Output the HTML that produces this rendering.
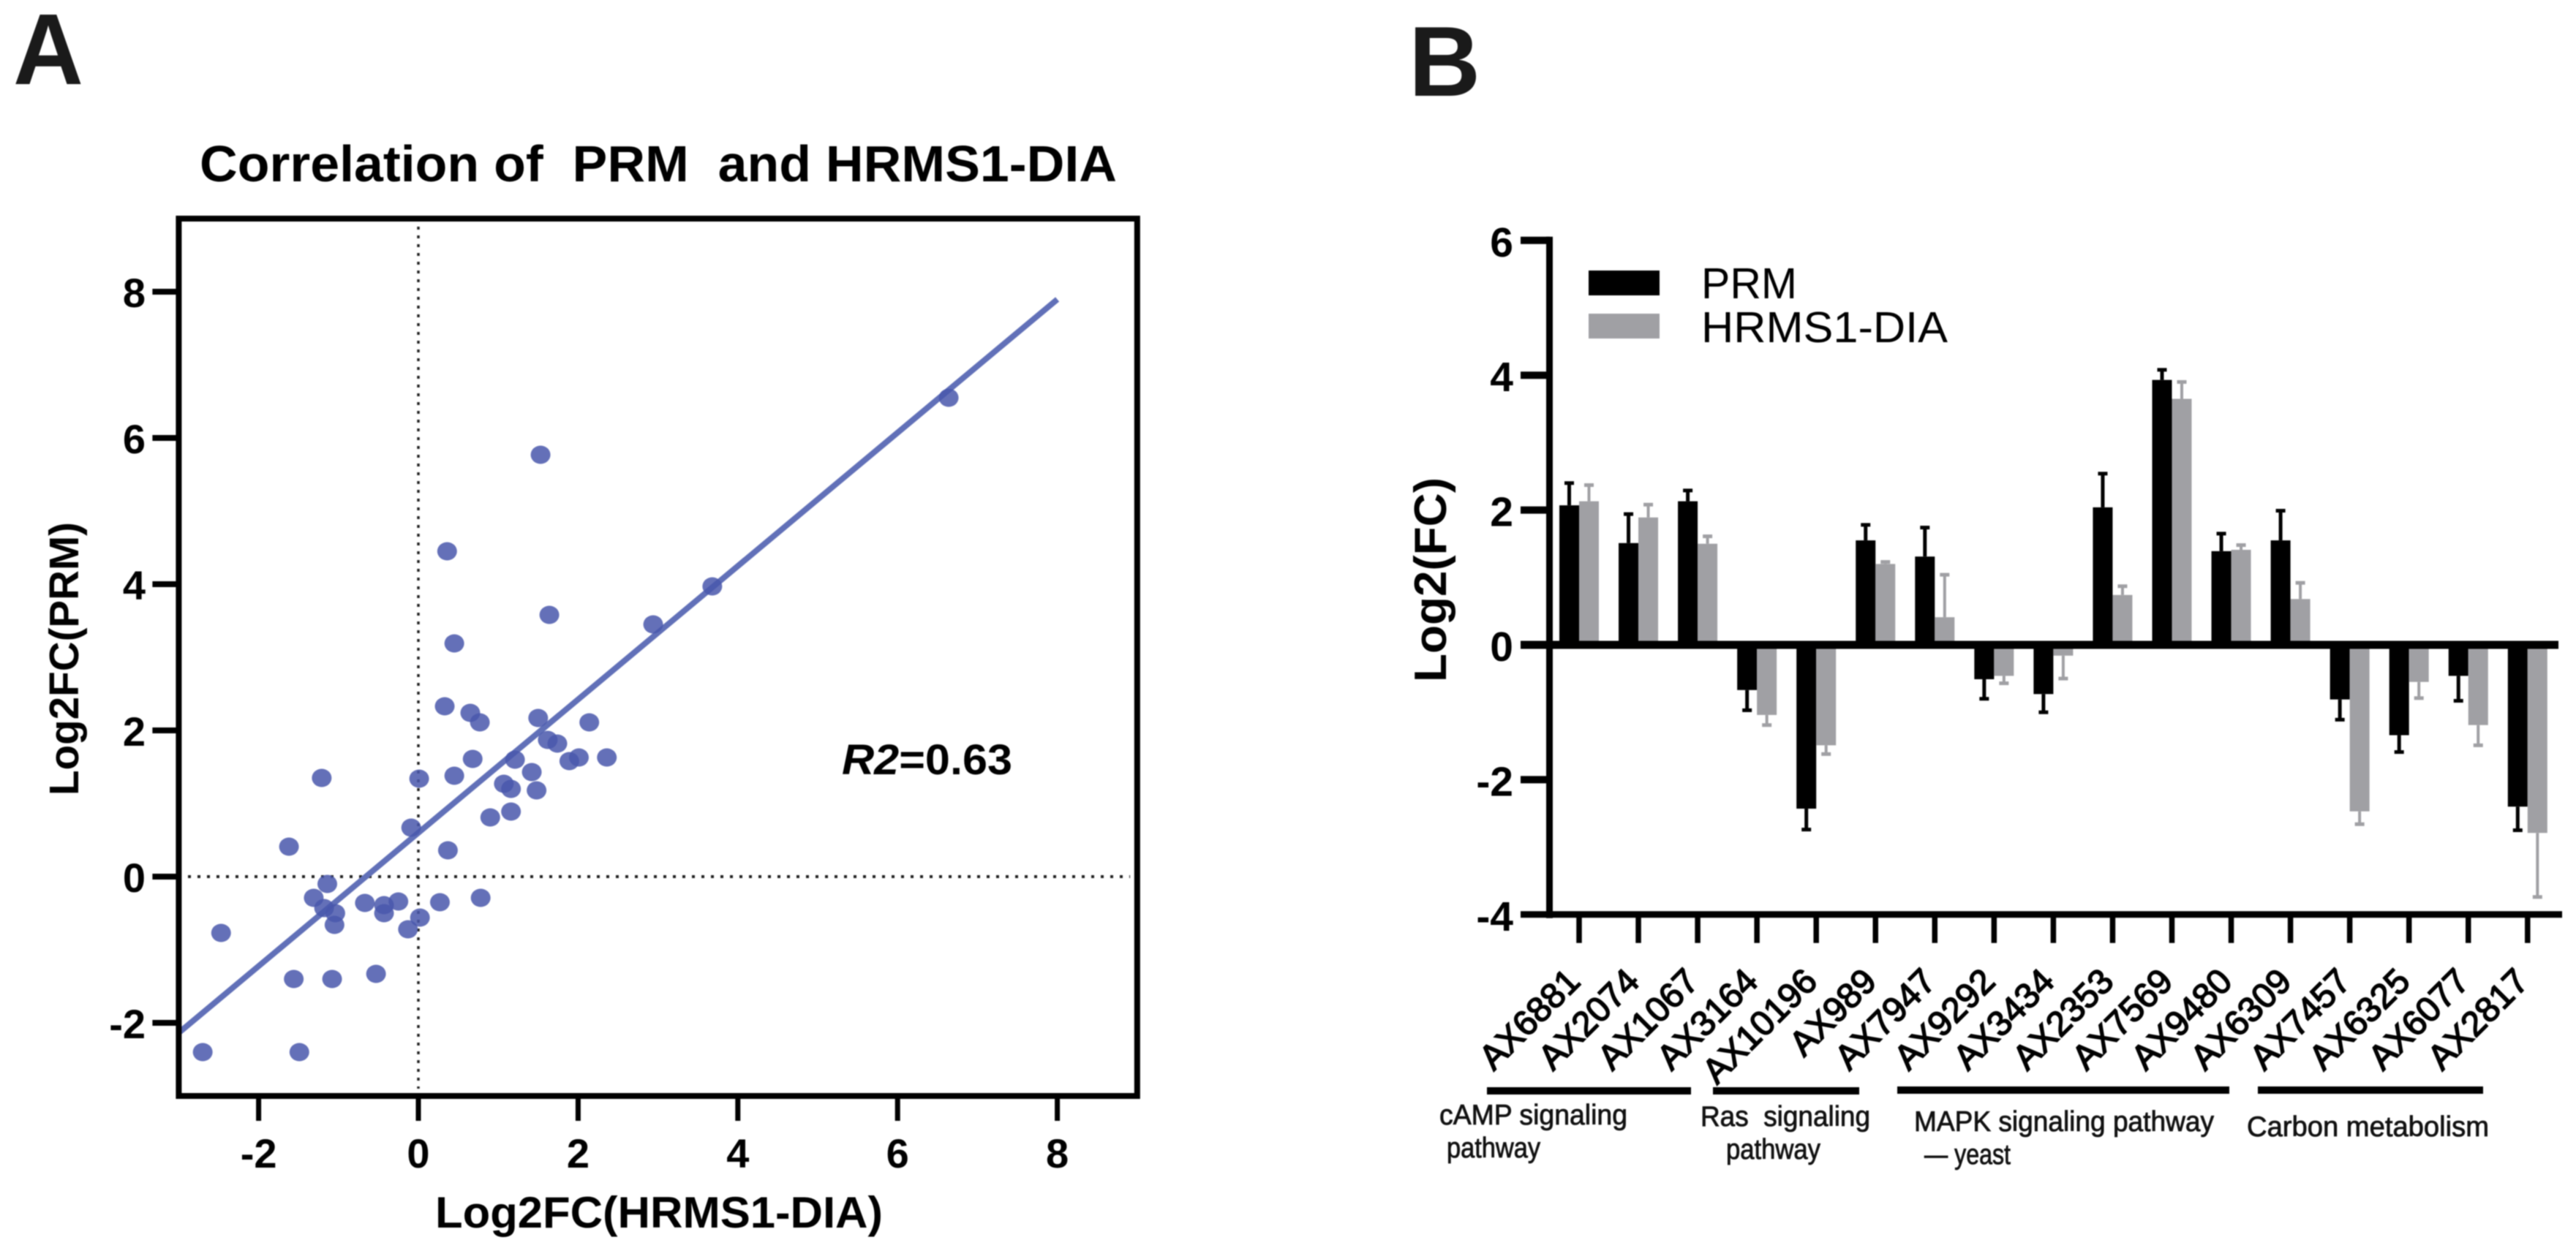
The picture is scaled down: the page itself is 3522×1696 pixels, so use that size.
<!DOCTYPE html>
<html lang="en">
<head>
<meta charset="utf-8">
<title>Correlation of PRM and HRMS1-DIA</title>
<style>
html,body{margin:0;padding:0;background:#fff;}
svg{display:block;font-family:"Liberation Sans",sans-serif;filter:blur(0.7px);}
</style>
</head>
<body>
<svg id="fig" xmlns="http://www.w3.org/2000/svg" width="3522" height="1696" viewBox="0 0 3522 1696">
<rect x="0" y="0" width="3522" height="1696" fill="#fff"/>
<text x="18" y="115" font-size="138" font-weight="700" fill="#1a1a1a" textLength="96" lengthAdjust="spacingAndGlyphs">A</text>
<text x="1926" y="131" font-size="136" font-weight="700" fill="#1a1a1a">B</text>
<text x="273" y="248" font-size="70" font-weight="700" textLength="1254" lengthAdjust="spacingAndGlyphs" xml:space="preserve">Correlation of  PRM  and HRMS1-DIA</text>
<text transform="translate(107,1088) rotate(-90)" font-size="57" font-weight="700" textLength="374" lengthAdjust="spacingAndGlyphs">Log2FC(PRM)</text>
<text x="595" y="1679" font-size="60" font-weight="700" textLength="612" lengthAdjust="spacingAndGlyphs">Log2FC(HRMS1-DIA)</text>
<text x="1151" y="1059" font-size="58" font-weight="700" textLength="233" lengthAdjust="spacingAndGlyphs"><tspan font-style="italic">R2</tspan>=0.63</text>
<g id="scatter"></g>
<g id="bars"></g>
<text transform="translate(1977,933) rotate(-90)" font-size="62" font-weight="700" textLength="280" lengthAdjust="spacingAndGlyphs">Log2(FC)</text>
<rect x="2172" y="370" width="97" height="34" fill="#000"/>
<rect x="2172" y="429" width="97" height="34" fill="#a0a0a4"/>
<text x="2326" y="408" font-size="59" textLength="131" lengthAdjust="spacingAndGlyphs">PRM</text>
<text x="2326" y="468" font-size="59" textLength="337" lengthAdjust="spacingAndGlyphs">HRMS1-DIA</text>
<rect x="2033" y="1487" width="279" height="10" fill="#000"/>
<rect x="2342" y="1487" width="200" height="10" fill="#000"/>
<rect x="2594" y="1486" width="454" height="10" fill="#000"/>
<rect x="3087" y="1486" width="308" height="10" fill="#000"/>
<g font-size="39" fill="#111" stroke="#111" stroke-width="0.8">
<text x="1968" y="1538" textLength="257" lengthAdjust="spacingAndGlyphs">cAMP signaling</text>
<text x="1978" y="1583" textLength="128" lengthAdjust="spacingAndGlyphs">pathway</text>
<text x="2325" y="1540" textLength="232" lengthAdjust="spacingAndGlyphs" xml:space="preserve">Ras  signaling</text>
<text x="2360" y="1585" textLength="129" lengthAdjust="spacingAndGlyphs">pathway</text>
<text x="2617" y="1547" textLength="410" lengthAdjust="spacingAndGlyphs">MAPK signaling pathway</text>
<text x="2631" y="1592" textLength="118" lengthAdjust="spacingAndGlyphs">— yeast</text>
<text x="3072" y="1554" textLength="331" lengthAdjust="spacingAndGlyphs">Carbon metabolism</text>
</g>
</svg>
<script>
// ---- Panel A data ----
var scatterX = [-2.70,-1.49,-2.47,-1.56,-1.08,-0.53,-1.62,-1.21,-1.14,-1.31,-1.18,-1.04,-1.05,-0.67,-0.43,-0.43,-0.25,-0.13,0.02,0.27,0.78,0.37,-0.09,0.01,0.45,0.68,0.33,0.65,0.77,0.45,0.90,1.16,1.07,1.16,1.48,1.42,1.21,1.50,1.62,1.74,1.89,2.01,2.36,2.14,2.94,1.64,3.68,0.36,1.53,6.64];
var scatterY = [-2.40,-2.40,-0.77,-1.40,-1.40,-1.33,0.41,1.35,-0.10,-0.29,-0.43,-0.50,-0.66,-0.36,-0.39,-0.50,-0.34,-0.72,-0.56,-0.35,-0.29,0.36,0.67,1.34,1.38,1.61,2.33,2.24,2.11,3.19,0.81,0.89,1.27,1.20,1.18,1.43,1.60,2.17,1.87,1.82,1.58,1.63,1.63,2.11,3.45,3.58,3.97,4.45,5.77,6.55];
var fitSlope = 0.912;
var fitIntercept = 0.6;
var fitStartX = -3;
var fitEndX = 8;
var scatterXTicks = [-2,0,2,4,6,8];
var scatterYTicks = [-2,0,2,4,6,8];
// ---- Panel B data ----
var categories = ["AX6881","AX2074","AX1067","AX3164","AX10196","AX989","AX7947","AX9292","AX3434","AX2353","AX7569","AX9480","AX6309","AX7457","AX6325","AX6077","AX2817"];
var prmValues = [2.07,1.51,2.13,-0.67,-2.43,1.55,1.31,-0.51,-0.73,2.04,3.93,1.39,1.55,-0.81,-1.34,-0.46,-2.40];
var prmErrors = [0.33,0.43,0.16,0.30,0.31,0.23,0.43,0.29,0.27,0.50,0.15,0.26,0.44,0.30,0.25,0.37,0.35];
var diaValues = [2.13,1.89,1.50,-1.04,-1.49,1.20,0.41,-0.46,-0.16,0.74,3.65,1.41,0.68,-2.47,-0.55,-1.19,-2.79];
var diaErrors = [0.24,0.19,0.11,0.15,0.13,0.03,0.63,0.11,0.34,0.13,0.25,0.07,0.24,0.19,0.24,0.30,0.95];
var barYTicks = [-4,-2,0,2,4,6];

var NS = 'http://www.w3.org/2000/svg';
function mk(tag, parent, attrs, text) {
  var el = document.createElementNS(NS, tag);
  for (var k in attrs) el.setAttribute(k, attrs[k]);
  if (text !== undefined) el.textContent = text;
  parent.appendChild(el);
  return el;
}
function sx(v) { return 572 + 109.2 * v; }
function sy(v) { return 1199 - 100 * v; }
function by(v) { return 882 - 92.2 * v; }
function bx(i) { return 2159 + 81.05 * i; }

// ---- Panel A ----
var A = document.getElementById('scatter');
var el;
el = mk('line', A, {x1:sx(0), x2:sx(0), y1:310, y2:1489, stroke:'#222', 'stroke-width':3.5, 'stroke-dasharray':'4 8'});


el = mk('line', A, {x1:257, x2:1545, y1:sy(0), y2:sy(0), stroke:'#222', 'stroke-width':4, 'stroke-dasharray':'4 9'});


el = mk('line', A, {x1:sx(fitStartX), y1:sy(fitIntercept + fitSlope * fitStartX), x2:sx(fitEndX), y2:sy(fitIntercept + fitSlope * fitEndX), stroke:'#6170b8', 'stroke-width':8});


scatterX.forEach(function (v, i) {
  var p = mk('ellipse', A, {cx:sx(v), cy:sy(scatterY[i]), rx:13.5, ry:12.5, fill:'#4957ac', 'fill-opacity':0.85});
  
  
});
el = mk('rect', A, {x:sx(-3), y:sy(9), width:sx(9)-sx(-3), height:sy(-3)-sy(9), fill:'none', stroke:'#000', 'stroke-width':8});


scatterXTicks.forEach(function (v) {
  var t = mk('line', A, {x1:sx(v), x2:sx(v), y1:sy(-3), y2:sy(-3)+34, stroke:'#000', 'stroke-width':7});
  
  
  var l = mk('text', A, {x:sx(v), y:1597, 'font-size':56, 'font-weight':700, 'text-anchor':'middle'}, String(v));
  
  
});
scatterYTicks.forEach(function (v) {
  var t = mk('line', A, {x1:sx(-3)-36, x2:sx(-3), y1:sy(v), y2:sy(v), stroke:'#000', 'stroke-width':8});
  
  
  var l = mk('text', A, {x:199, y:sy(v)+21, 'font-size':56, 'font-weight':700, 'text-anchor':'end'}, String(v));
  
  
});

// ---- Panel B ----
var B = document.getElementById('bars');
function drawBar(i, value, error, offset, color, errW) {
  var cx = bx(i) + offset;
  var y0 = by(0), y1 = by(value);
  var tip = by(value + (value >= 0 ? error : -error));
  var e = mk('line', B, {x1:cx, x2:cx, y1:y1, y2:tip, stroke:color, 'stroke-width':errW});
  
  
  var c = mk('rect', B, {x:cx-6.5, y:tip-2.5, width:13, height:5, fill:color});
  
  
  var r = mk('rect', B, {x:cx-13.5, y:Math.min(y0,y1), width:27, height:Math.abs(y1-y0), fill:color});
  
  
}
categories.forEach(function (name, i) {
  drawBar(i, prmValues[i], prmErrors[i], -13.5, '#000', 5);
  drawBar(i, diaValues[i], diaErrors[i], 13.5, '#a0a0a4', 4);
  var t = mk('line', B, {x1:bx(i), x2:bx(i), y1:by(-4), y2:by(-4)+39, stroke:'#000', 'stroke-width':7.5});
  
  
  var l = mk('text', B, {transform:'translate(' + (bx(i)+4) + ',1345) rotate(-45)', 'font-size':48, 'text-anchor':'end', stroke:'#000', 'stroke-width':1.6}, name);
  
  
});
el = mk('line', B, {x1:2118.5, x2:2118.5, y1:by(6)-5, y2:by(-4)+5, stroke:'#000', 'stroke-width':9});


el = mk('line', B, {x1:2079, x2:3498, y1:by(0), y2:by(0), stroke:'#000', 'stroke-width':11});


el = mk('line', B, {x1:2079, x2:3503, y1:by(-4), y2:by(-4), stroke:'#000', 'stroke-width':9});


barYTicks.forEach(function (v) {
  if (v !== 0 && v !== -4) {
    var t = mk('line', B, {x1:2079, x2:2119, y1:by(v), y2:by(v), stroke:'#000', 'stroke-width':10});
    
    
  }
  var l = mk('text', B, {x:2069, y:by(v)+22, 'font-size':57, 'font-weight':700, 'text-anchor':'end'}, String(v));
  
  
});
</script>
</body>
</html>
